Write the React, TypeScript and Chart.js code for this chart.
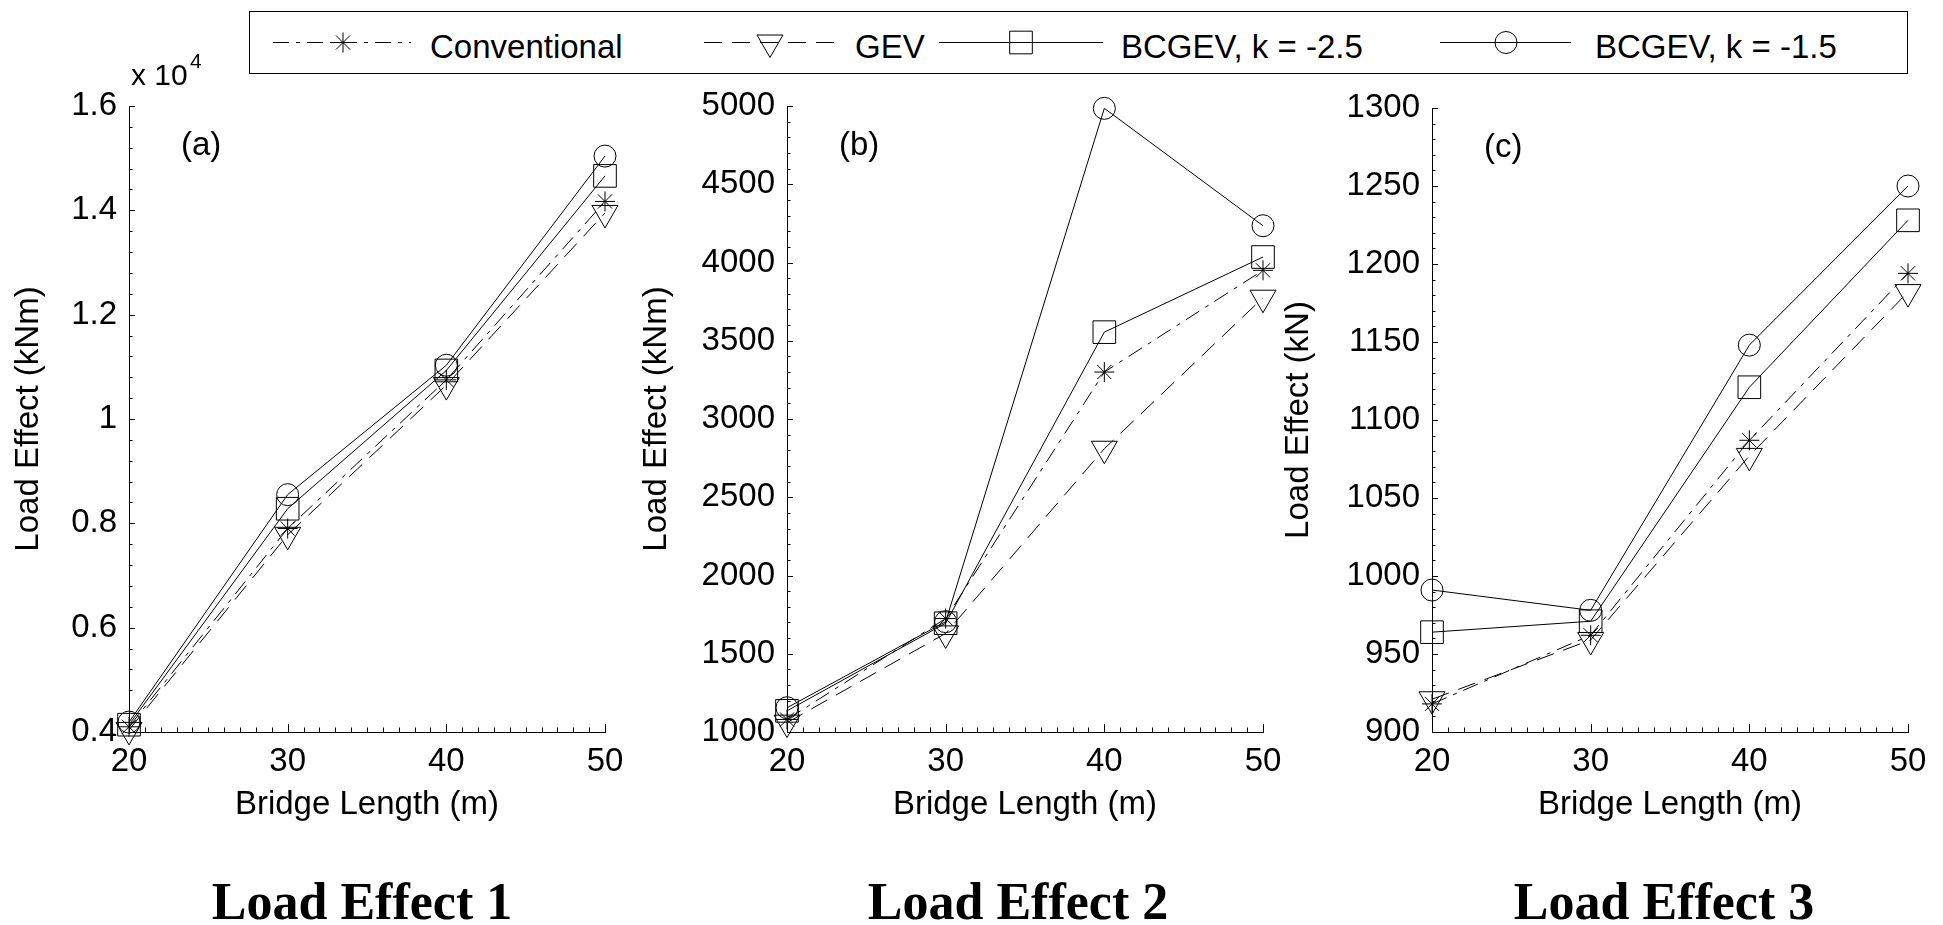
import React, { useEffect, useRef } from 'react';
import { Chart, registerables } from 'chart.js';

Chart.register(...registerables);

// ---------------- DATA ----------------
const bridgeLengths = [20, 30, 40, 50];
const seriesNames = ['Conventional', 'GEV', 'BCGEV, k = -2.5', 'BCGEV, k = -1.5'];

// Load Effect 1 (kNm)
const le1Conventional = [4100, 7900, 10750, 14170];
const le1GEV = [4040, 7780, 10650, 13950];
const le1BCGEV25 = [4140, 8280, 10930, 14660];
const le1BCGEV15 = [4190, 8550, 11030, 15040];

// Load Effect 2 (kNm)
const le2Conventional = [1080, 1725, 3300, 3950];
const le2GEV = [1060, 1630, 2810, 3775];
const le2BCGEV25 = [1135, 1695, 3555, 4035];
const le2BCGEV15 = [1155, 1705, 4985, 4235];

// Load Effect 3 (kN)
const le3Conventional = [918, 962, 1087, 1194];
const le3GEV = [921, 959, 1077, 1182];
const le3BCGEV25 = [964, 971, 1121, 1228];
const le3BCGEV15 = [991, 978, 1148, 1250];

const xTickValues = [20, 30, 40, 50];
const yTicksA = [4000, 6000, 8000, 10000, 12000, 14000, 16000];
const yTicksB = [1000, 1500, 2000, 2500, 3000, 3500, 4000, 4500, 5000];
const yTicksC = [900, 950, 1000, 1050, 1100, 1150, 1200, 1250, 1300];

const panelLetters = ['(a)', '(b)', '(c)'];
const yTitles = ['Load Effect (kNm)', 'Load Effect (kNm)', 'Load Effect (kN)'];
const xTitle = 'Bridge Length (m)';
const captions = ['Load Effect 1', 'Load Effect 2', 'Load Effect 3'];

// ---------------- STYLE ----------------
const SANS = '"Liberation Sans", Arial, Helvetica, sans-serif';
const SERIF = '"Liberation Serif", "Times New Roman", serif';
const FS = 33;

type Marker = 'star' | 'triangle' | 'rect' | 'circle';
const seriesStyle: { dash: number[]; marker: Marker; radius: number; rotation: number }[] = [
  { dash: [16, 7, 4, 7], marker: 'star', radius: 10, rotation: 0 },
  { dash: [18, 10], marker: 'triangle', radius: 15, rotation: 180 },
  { dash: [], marker: 'rect', radius: 16, rotation: 0 },
  { dash: [], marker: 'circle', radius: 11, rotation: 0 },
];

const CANVAS_TOP = 40;
const CANVAS_BOTTOM = 850;
const PLOT_BOTTOM = 732;
const PLOT_W = 476;
const PAD_RIGHT = 34;

const panelLayout = [
  { left: 129, top: 106, yAxisW: 125, yTitleOff: 100 },
  { left: 787, top: 106, yAxisW: 160, yTitleOff: 130 },
  { left: 1432, top: 108, yAxisW: 160, yTitleOff: 133 },
];

const panelData = [
  { series: [le1Conventional, le1GEV, le1BCGEV25, le1BCGEV15], ticks: yTicksA, minor: 400, div: 10000, exp: '4' },
  { series: [le2Conventional, le2GEV, le2BCGEV25, le2BCGEV15], ticks: yTicksB, minor: 100, div: 1, exp: '' },
  { series: [le3Conventional, le3GEV, le3BCGEV25, le3BCGEV15], ticks: yTicksC, minor: 10, div: 1, exp: '' },
];

// Plugin: MATLAB-like inward ticks, panel letter and exponent label
const matlabDecor = {
  id: 'matlabDecor',
  afterDraw(chart: any, _args: any, opts: any) {
    const { ctx, chartArea } = chart;
    const xs = chart.scales.x;
    const ys = chart.scales.y;
    ctx.save();
    ctx.strokeStyle = '#000';
    ctx.lineWidth = 1;
    ctx.beginPath();
    // x ticks (minor every 1 m, major every 10)
    const nx = Math.round((xs.max - xs.min) / opts.xMinor);
    for (let i = 0; i <= nx; i++) {
      const v = xs.min + i * opts.xMinor;
      const px = Math.round(xs.getPixelForValue(v)) + 0.5;
      const len = i % opts.xMajorEvery === 0 ? 8 : 4.5;
      ctx.moveTo(px, chartArea.bottom);
      ctx.lineTo(px, chartArea.bottom - len);
    }
    const ny = Math.round((ys.max - ys.min) / opts.yMinor);
    for (let i = 0; i <= ny; i++) {
      const v = ys.min + i * opts.yMinor;
      const py = Math.round(ys.getPixelForValue(v)) + 0.5;
      const len = i % opts.yMajorEvery === 0 ? 6 : 3.5;
      ctx.moveTo(chartArea.left, py);
      ctx.lineTo(chartArea.left + len, py);
    }
    ctx.stroke();
    ctx.fillStyle = '#000';
    ctx.textBaseline = 'alphabetic';
    ctx.textAlign = 'left';
    ctx.font = `${FS}px ${SANS}`;
    ctx.fillText(opts.letter, chartArea.left + 52, chartArea.top + 49);
    if (opts.exp) {
      ctx.font = `30px ${SANS}`;
      ctx.fillText('x 10', chartArea.left + 2, chartArea.top - 21);
      ctx.font = `21px ${SANS}`;
      ctx.fillText(opts.exp, chartArea.left + 61, chartArea.top - 38);
    }
    ctx.restore();
  },
};

function Panel({ idx }: { idx: number }) {
  const ref = useRef<HTMLCanvasElement>(null);
  const lay = panelLayout[idx];
  const pd = panelData[idx];
  const canvasLeft = lay.left - lay.yAxisW;
  const width = lay.yAxisW + PLOT_W + PAD_RIGHT;
  const height = CANVAS_BOTTOM - CANVAS_TOP;

  useEffect(() => {
    const yMin = pd.ticks[0];
    const yMax = pd.ticks[pd.ticks.length - 1];
    const yStep = pd.ticks[1] - pd.ticks[0];
    const chart = new Chart(ref.current as HTMLCanvasElement, {
      type: 'line',
      data: {
        datasets: pd.series.map((vals, i) => ({
          label: seriesNames[i],
          data: bridgeLengths.map((x, j) => ({ x, y: vals[j] })),
          borderColor: '#000',
          borderWidth: 1,
          borderDash: seriesStyle[i].dash,
          pointStyle: seriesStyle[i].marker,
          pointRadius: seriesStyle[i].radius,
          pointRotation: seriesStyle[i].rotation,
          pointBorderColor: '#000',
          pointBorderWidth: 1,
          pointBackgroundColor: 'rgba(0,0,0,0)',
          pointHoverRadius: seriesStyle[i].radius,
          tension: 0,
          fill: false,
          clip: false,
        })),
      },
      options: {
        responsive: false,
        animation: false,
        devicePixelRatio: 1,
        events: [],
        layout: { padding: { top: lay.top - CANVAS_TOP, right: PAD_RIGHT, left: 0, bottom: 0 } },
        plugins: {
          legend: { display: false },
          tooltip: { enabled: false },
          matlabDecor: {
            xMinor: 1,
            xMajorEvery: 10,
            yMinor: pd.minor,
            yMajorEvery: Math.round(yStep / pd.minor),
            letter: panelLetters[idx],
            exp: pd.exp,
          },
        } as any,
        scales: {
          x: {
            type: 'linear',
            min: xTickValues[0],
            max: xTickValues[xTickValues.length - 1],
            afterBuildTicks: (s: any) => {
              s.ticks = xTickValues.map((v) => ({ value: v }));
            },
            ticks: {
              padding: 10,
              color: '#000',
              font: { size: FS, family: SANS },
              maxRotation: 0,
              autoSkip: false,
            },
            grid: { display: false, drawTicks: false },
            border: { display: true, color: '#000', width: 1 },
            title: {
              display: true,
              text: xTitle,
              color: '#000',
              font: { size: FS, family: SANS },
              padding: { top: 0, bottom: 25 },
            },
            afterFit: (s: any) => {
              s.height = CANVAS_BOTTOM - PLOT_BOTTOM;
            },
          },
          y: {
            type: 'linear',
            min: yMin,
            max: yMax,
            afterBuildTicks: (s: any) => {
              s.ticks = pd.ticks.map((v) => ({ value: v }));
            },
            ticks: {
              padding: 12,
              color: '#000',
              font: { size: FS, family: SANS },
              autoSkip: false,
              callback: (v: any) => String(Number(v) / pd.div),
            },
            grid: { display: false, drawTicks: false },
            border: { display: true, color: '#000', width: 1 },
            title: {
              display: true,
              text: yTitles[idx],
              color: '#000',
              font: { size: FS, family: SANS },
              padding: { top: lay.yAxisW - lay.yTitleOff - FS * 0.6, bottom: 0 },
            },
            afterFit: (s: any) => {
              s.width = lay.yAxisW;
            },
          },
        },
      },
      plugins: [matlabDecor],
    } as any);
    return () => chart.destroy();
  }, []);

  return (
    <canvas
      ref={ref}
      width={width}
      height={height}
      style={{ position: 'absolute', left: canvasLeft, top: CANVAS_TOP, width, height }}
    />
  );
}

// ---------------- LEGEND ----------------
const legendItems = [
  { x0: 273, x1: 411, mx: 343, tx: 430 },
  { x0: 704, x1: 836, mx: 770, tx: 855 },
  { x0: 939, x1: 1103, mx: 1021, tx: 1121 },
  { x0: 1440, x1: 1571, mx: 1506, tx: 1595 },
];

function drawMarker(ctx: CanvasRenderingContext2D, m: Marker, x: number, y: number, r: number, rotDeg: number) {
  ctx.beginPath();
  if (m === 'circle') {
    ctx.arc(x, y, r, 0, Math.PI * 2);
  } else if (m === 'rect') {
    const s = Math.SQRT1_2 * r;
    ctx.rect(x - s, y - s, 2 * s, 2 * s);
  } else if (m === 'triangle') {
    let rad = (rotDeg * Math.PI) / 180;
    ctx.moveTo(x + Math.sin(rad) * r, y - Math.cos(rad) * r);
    rad += (2 * Math.PI) / 3;
    ctx.lineTo(x + Math.sin(rad) * r, y - Math.cos(rad) * r);
    rad += (2 * Math.PI) / 3;
    ctx.lineTo(x + Math.sin(rad) * r, y - Math.cos(rad) * r);
    ctx.closePath();
  } else {
    const d = Math.SQRT1_2 * r;
    ctx.moveTo(x - r, y); ctx.lineTo(x + r, y);
    ctx.moveTo(x, y - r); ctx.lineTo(x, y + r);
    ctx.moveTo(x - d, y - d); ctx.lineTo(x + d, y + d);
    ctx.moveTo(x - d, y + d); ctx.lineTo(x + d, y - d);
  }
  ctx.stroke();
}

function LegendSample({ i }: { i: number }) {
  const ref = useRef<HTMLCanvasElement>(null);
  const it = legendItems[i];
  const w = it.x1 - it.x0;
  const h = 40;
  useEffect(() => {
    const ctx = (ref.current as HTMLCanvasElement).getContext('2d') as CanvasRenderingContext2D;
    ctx.clearRect(0, 0, w, h);
    ctx.strokeStyle = '#000';
    ctx.lineWidth = 1;
    ctx.setLineDash(seriesStyle[i].dash);
    ctx.beginPath();
    ctx.moveTo(0, 20.5);
    ctx.lineTo(w, 20.5);
    ctx.stroke();
    ctx.setLineDash([]);
    const st = seriesStyle[i];
    drawMarker(ctx, st.marker, it.mx - it.x0, 20.5, st.radius, st.rotation);
  }, []);
  return (
    <canvas ref={ref} width={w} height={h} style={{ position: 'absolute', left: it.x0, top: 22, width: w, height: h }} />
  );
}

function Legend() {
  return (
    <>
      <div
        style={{
          position: 'absolute',
          left: 249,
          top: 11,
          width: 1908 - 249,
          height: 63,
          border: '1px solid #000',
          boxSizing: 'border-box',
          background: '#fff',
        }}
      />
      {legendItems.map((it, i) => (
        <React.Fragment key={i}>
          <LegendSample i={i} />
          <span
            style={{
              position: 'absolute',
              left: it.tx,
              top: 30,
              font: `${FS}px ${SANS}`,
              lineHeight: `${FS}px`,
              whiteSpace: 'nowrap',
              color: '#000',
            }}
          >
            {seriesNames[i]}
          </span>
        </React.Fragment>
      ))}
    </>
  );
}

const captionCenters = [362, 1018, 1664];

export default function App() {
  return (
    <div style={{ position: 'absolute', left: 0, top: 0, width: 1943, height: 925, background: '#fff', overflow: 'hidden' }}>
      <Legend />
      {[0, 1, 2].map((i) => (
        <Panel key={i} idx={i} />
      ))}
      {captions.map((c, i) => (
        <div
          key={c}
          style={{
            position: 'absolute',
            left: captionCenters[i] - 250,
            width: 500,
            top: 876,
            textAlign: 'center',
            font: `bold 52px ${SERIF}`,
            lineHeight: '52px',
            color: '#000',
            whiteSpace: 'nowrap',
          }}
        >
          {c}
        </div>
      ))}
    </div>
  );
}
